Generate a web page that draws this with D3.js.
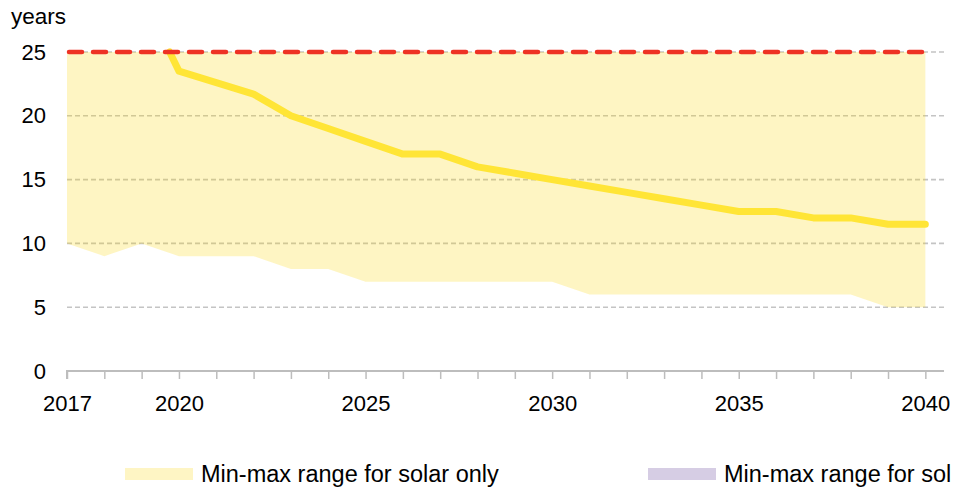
<!DOCTYPE html>
<html>
<head>
<meta charset="utf-8">
<script src="https://cdn.jsdelivr.net/npm/d3@7"></script>
<style>
  html, body { margin: 0; padding: 0; background: #fff; }
  svg { display: block; font-family: "Liberation Sans", Arial, sans-serif; }
</style>
</head>
<body>
<svg id="chart" width="955" height="491"></svg>
<script>
// ---- data ----
const rangeYears = [2017,2018,2019,2020,2021,2022,2023,2024,2025,2026,2027,2028,2029,2030,2031,2032,2033,2034,2035,2036,2037,2038,2039,2040];
const rangeMin   = [10,9,10,9,9,9,8,8,7,7,7,7,7,7,6,6,6,6,6,6,6,6,5,5];
const rangeMax   = [25,25,25,25,25,25,25,25,25,25,25,25,25,25,25,25,25,25,25,25,25,25,25,25];

const lineYears  = [2019.75,2020,2021,2022,2023,2024,2025,2026,2027,2028,2029,2030,2031,2032,2033,2034,2035,2036,2037,2038,2039,2040];
const lineValues = [25,23.5,22.6,21.7,20,19,18,17,17,16,15.5,15,14.5,14,13.5,13,12.5,12.5,12,12,11.5,11.5];

const refYears   = [2017,2040];
const refValues  = [25,25];

const xLabelYears = [2017,2020,2025,2030,2035,2040];
const yTicks      = [0,5,10,15,20,25];
const yUnit       = "years";
const legendItems = ["Min-max range for solar only","Min-max range for sol"];

// ---- layout ----
const svg = d3.select("#chart");
const x = d3.scaleLinear().domain([2017, 2040.5]).range([67, 944]);
const y = d3.scaleLinear().domain([0, 25]).range([371, 52]);

// gridlines
svg.append("g").selectAll("line")
  .data(yTicks.filter(d => d > 0))
  .join("line")
  .attr("x1", x(2017)).attr("x2", x.range()[1])
  .attr("y1", d => y(d)).attr("y2", d => y(d))
  .attr("stroke", "#c4c4c4")
  .attr("stroke-width", 1.6)
  .attr("stroke-dasharray", "5,3");

// range area (semi-transparent so grid shows through)
const rangeData = rangeYears.map((yr, i) => ({yr, lo: rangeMin[i], hi: rangeMax[i]}));
svg.append("path")
  .datum(rangeData)
  .attr("d", d3.area().x(d => x(d.yr)).y0(d => y(d.lo)).y1(d => y(d.hi)))
  .attr("fill", "#fbd50a")
  .attr("fill-opacity", 0.245);

// x axis
const xAxis = d3.axisBottom(x)
  .tickValues(rangeYears)
  .tickSize(8)
  .tickPadding(16)
  .tickFormat(d => xLabelYears.includes(d) ? String(d) : "");
const gx = svg.append("g").attr("transform", `translate(0,${y(0)})`).call(xAxis);
gx.select(".domain").attr("stroke", "#bdbdbd").attr("stroke-width", 2).attr("d", `M${x(2017)},8V0H${x.range()[1]}`);
gx.selectAll(".tick line").attr("stroke", "#bdbdbd").attr("stroke-width", 1.5);
gx.selectAll(".tick text").attr("fill", "#000").attr("font-size", 22).attr("font-family", "Liberation Sans, Arial, sans-serif");

// y axis
const yAxis = d3.axisLeft(y).tickValues(yTicks).tickSize(0).tickPadding(21);
const gy = svg.append("g").attr("transform", `translate(${x(2017)},0)`).call(yAxis);
gy.select(".domain").remove();
gy.selectAll(".tick text").attr("fill", "#000").attr("font-size", 22).attr("font-family", "Liberation Sans, Arial, sans-serif");

// unit label
svg.append("text").attr("x", 11).attr("y", 24).attr("font-size", 22.5).attr("fill", "#000").text(yUnit);

// main line
svg.append("path")
  .datum(lineYears.map((yr, i) => ({yr, v: lineValues[i]})))
  .attr("d", d3.line().x(d => x(d.yr)).y(d => y(d.v)))
  .attr("fill", "none")
  .attr("stroke", "#ffe536")
  .attr("stroke-width", 7)
  .attr("stroke-linejoin", "round")
  .attr("stroke-linecap", "round");

// red dashed reference line
svg.append("path")
  .datum(refYears.map((yr, i) => ({yr, v: refValues[i]})))
  .attr("d", d3.line().x(d => x(d.yr)).y(d => y(d.v)))
  .attr("fill", "none")
  .attr("stroke", "#ee3224")
  .attr("stroke-width", 4.5)
  .attr("stroke-linecap", "round")
  .attr("stroke-dasharray", "13,11")
  .attr("stroke-dashoffset", -2);

// legend
const legendX = [125, 648];
const legendColors = ["#fef5c4", "#d6cde4"];
const lg = svg.append("g");
legendItems.forEach((t, i) => {
  lg.append("rect").attr("x", legendX[i]).attr("y", 468).attr("width", 68).attr("height", 12).attr("fill", legendColors[i]);
  lg.append("text").attr("x", legendX[i] + 76).attr("y", 482).attr("font-size", 23.5).attr("fill", "#000").text(t);
});
</script>
</body>
</html>
